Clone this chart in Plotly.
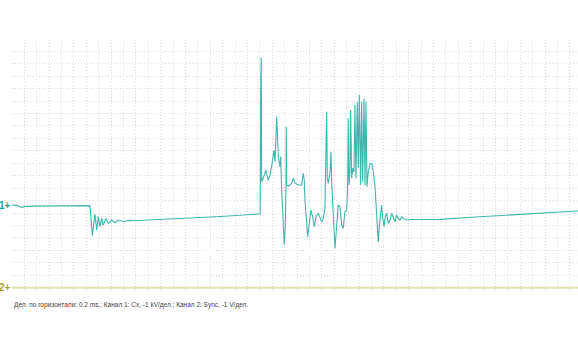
import plotly.graph_objects as go

# Channel 1 (Cx) trace, in grid divisions (x: horizontal divisions, y: vertical divisions above channel-2 baseline)
ch1_x = [0.02, 0.40, 0.78, 1.13, 1.85, 3.06, 4.68, 6.29,
         6.48, 6.69, 6.83, 6.96, 7.10, 7.23, 7.36, 7.58, 7.77, 8.04, 8.31, 8.57, 8.98, 9.35, 9.78,
         11.13, 13.55, 16.77, 19.84, 20.02,
         20.06, 20.10, 20.14, 20.27, 20.48, 20.67, 20.81, 20.94, 21.13, 21.21, 21.35, 21.40, 21.48,
         21.61, 21.67, 21.75, 21.88, 21.96, 22.04, 22.10, 22.12, 22.15, 22.36, 22.56, 22.69, 22.82,
         23.09, 23.36, 23.49, 23.57, 23.63, 23.77, 23.85, 23.98, 24.11, 24.25, 24.38, 24.52, 24.70,
         24.98, 25.10, 25.24, 25.32, 25.38, 25.43, 25.51, 25.65, 25.73, 25.78, 25.91, 26.05, 26.19,
         26.31, 26.45, 26.59, 26.72, 26.85, 26.99, 27.07, 27.12, 27.18, 27.26, 27.31, 27.40, 27.48,
         27.58, 27.66, 27.74, 27.85, 27.93, 28.01, 28.12, 28.20, 28.28, 28.39, 28.47, 28.55, 28.63,
         28.73, 28.87, 29.01, 29.14, 29.27, 29.35, 29.46, 29.54, 29.62, 29.73, 29.81, 29.89, 30.00,
         30.10, 30.22, 30.35, 30.48, 30.62, 30.75, 30.89, 31.02, 31.15, 31.29, 31.43, 31.56, 31.83,
         32.10, 32.90, 34.52, 37.74, 40.97, 44.19, 45.65]
ch1_y = [6.64, 6.60, 6.46, 6.54, 6.56, 6.56, 6.59, 6.60,
         4.19, 5.92, 4.63, 5.72, 4.90, 5.60, 5.04, 5.57, 5.17, 5.44, 5.22, 5.44, 5.30, 5.40, 5.38,
         5.44, 5.57, 5.72, 5.92, 5.92,
         16.28, 18.49, 8.51, 8.81, 9.45, 8.65, 9.05, 9.72, 11.06, 10.12, 13.73, 11.86, 10.52,
         9.72, 10.52, 7.85, 4.39, 3.43, 4.90, 8.11, 12.93, 8.25, 8.17, 8.41, 8.81, 8.41,
         8.25, 8.25, 9.21, 8.65, 7.04, 4.90, 4.10, 5.20, 6.24, 5.70, 4.90, 5.70, 5.98,
         5.30, 5.57, 6.38, 12.80, 14.14, 8.79, 8.39, 9.32, 10.92, 8.51, 6.10, 3.16, 5.04,
         6.64, 6.51, 5.04, 4.77, 6.10, 6.24, 7.98, 13.61, 8.25, 9.32, 14.27, 8.79, 9.59,
         9.32, 14.67, 8.79, 14.94, 9.59, 15.48, 8.25, 14.94, 8.51, 15.21, 8.25, 14.94, 8.11,
         9.32, 9.94, 9.98, 9.32, 8.25, 6.91, 5.28, 3.67, 4.90, 5.98, 6.64, 5.70, 4.90,
         5.70, 5.98, 5.17, 5.44, 5.98, 5.57, 5.30, 5.84, 5.57, 5.44, 5.70, 5.57, 5.44,
         5.48, 5.48, 5.49, 5.70, 5.92, 6.08, 6.16]

# Channel 2 (Sync) trace
ch2_x = [0.0, 45.65]
ch2_y = [0.0, 0.0]

ch1_marker_level = 6.64
ch2_marker_level = 0.0

caption = "Дел. по горизонтали: 0.2 ms.; Канал 1: Cx, -1 kV/дел.; Канал 2: Sync, -1 V/дел."

fig = go.Figure()
fig.add_trace(go.Scatter(x=ch2_x, y=ch2_y, mode="lines",
                         line=dict(color="#e2e2a8", width=2), hoverinfo="skip"))
fig.add_trace(go.Scatter(x=ch1_x, y=ch1_y, mode="lines",
                         line=dict(color="#3db6ad", width=1.1), hoverinfo="skip"))

fig.add_annotation(x=0, xref="paper", xanchor="right", xshift=1,
                   y=ch1_marker_level, yref="y", text="<b>1+</b>", showarrow=False,
                   font=dict(family="Liberation Sans, Arial", size=10, color="#1aa3a0"))
fig.add_annotation(x=0, xref="paper", xanchor="right", xshift=1,
                   y=ch2_marker_level, yref="y", text="<b>2+</b>", showarrow=False,
                   font=dict(family="Liberation Sans, Arial", size=10, color="#a3a32a"))
fig.add_annotation(x=0, xref="paper", xanchor="left", y=0, yref="paper", yshift=-15,
                   yanchor="middle", text=caption, showarrow=False,
                   font=dict(family="Liberation Sans, Arial", size=6.5, color="#404040"))

grid_style = dict(showticklabels=False, ticks="", showgrid=True, gridcolor="#dcdcdc",
                  griddash="1px,2px", gridwidth=1, zeroline=False, showline=False,
                  fixedrange=True)
fig.update_xaxes(range=[0, 45.65], tick0=0, dtick=1, **grid_style)
fig.update_yaxes(range=[-0.18, 19.9], tick0=0, dtick=1, **grid_style)

fig.update_layout(width=578, height=350, margin=dict(l=12, r=0, t=40, b=60),
                  paper_bgcolor="white", plot_bgcolor="white", showlegend=False)

fig.write_html("out.html", config={"displayModeBar": False})
